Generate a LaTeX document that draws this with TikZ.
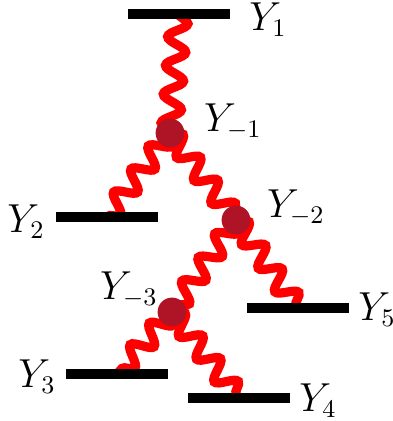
\documentclass[tikz,border=0pt]{standalone}
\usetikzlibrary{decorations.pathmorphing,backgrounds,positioning}
\definecolor{vertred}{RGB}{175,20,38}

\begin{document}
\begin{tikzpicture}[x=0.0125cm, y=-0.0125cm,
  level/.style={fill=black, inner sep=0pt, minimum width=1.27cm, minimum height=0.125cm},
  vert/.style={circle, fill=vertred, inner sep=0pt, minimum size=0.36cm},
  lab/.style={font=\fontsize{13.5}{16}\selectfont, inner sep=0pt},
  wave/.style={red, line width=0.115cm, decorate,
               decoration={snake, amplitude=0.12cm, segment length=0.36cm}}]
\useasboundingbox (0,0) rectangle (393,421);
% levels
\node[level] (y1) at (179,14) {};
\node[level] (y2) at (107,217) {};
\node[level] (y5) at (298,308) {};
\node[level] (y3) at (117,374) {};
\node[level] (y4) at (239,398) {};
% vertices
\node[vert] (m1) at (170,133) {};
\node[vert] (m2) at (236,220) {};
\node[vert] (m3) at (172,312) {};
% labels
\node[lab] (ly1) at (268,20) {$Y_1$};
\node[lab] (lm1) at (233,122) {$Y_{-1}$};
\node[lab] (ly2) at (26,222) {$Y_2$};
\node[lab] (lm2) at (296,208) {$Y_{-2}$};
\node[lab] (ly5) at (377,310) {$Y_5$};
\node[lab] (lm3) at (129,290) {$Y_{-3}$};
\node[lab] (ly3) at (37,377) {$Y_3$};
\node[lab] (ly4) at (318,401) {$Y_4$};
% propagators
\begin{pgfonlayer}{background}
\draw[wave] (y1.center) -- (m1.center);
\draw[wave] (m1.center) -- (y2.center);
\draw[wave] (m1.center) -- (m2.center);
\draw[wave] (m2.center) -- (y5.center);
\draw[wave] (m2.center) -- (m3.center);
\draw[wave] (m3.center) -- (y3.center);
\draw[wave] (m3.center) -- (y4.center);
\end{pgfonlayer}
\end{tikzpicture}
\end{document}
